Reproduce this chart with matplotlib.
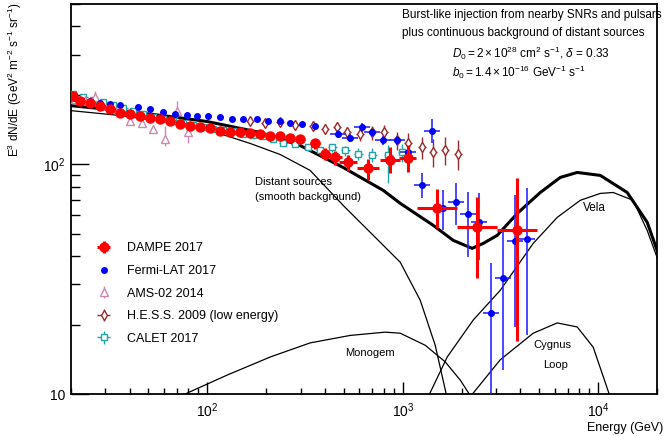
import numpy as np
import matplotlib
matplotlib.use("Agg")
import matplotlib.pyplot as plt
import matplotlib.ticker as ticker

plt.rcParams['font.family'] = ['Liberation Sans', 'DejaVu Sans']
plt.rcParams['mathtext.fontset'] = 'custom'
plt.rcParams['mathtext.rm'] = 'Liberation Sans'
plt.rcParams['mathtext.it'] = 'Liberation Sans:italic'

# ---- data (E in GeV, E^3 x flux) ----
# DAMPE-like series (red, filled circles)
red_E = [20.6, 22.4, 25.2, 28.4, 31.9, 35.9, 40.4, 45.4, 51.1, 57.5, 64.7, 72.8, 81.9, 92.1,
         103.6, 116.5, 131, 147.5, 166, 187, 210, 236, 266, 299, 357, 401, 452, 526, 666,
         863, 1060, 1502, 2404, 3855]
red_F = [199.5, 189.8, 186.0, 180.5, 175.2, 168.3, 166.7, 163.4, 160.1, 158.5, 154.5, 150.7, 147.7, 144.9,
         144.1, 140.5, 137.8, 137.8, 137.1, 135.7, 133.7, 133.0, 131.0, 129.1, 123.4, 111.6, 107.3, 102.0, 96.1,
         104.1, 106.2, 64.4, 53.2, 51.6]
red_dn = [0.03] * 24 + [0.05, 0.06, 0.07, 0.08, 0.11, 0.12, 0.13, 0.18, 0.40, 0.67]
red_up = [0.03] * 24 + [0.05, 0.06, 0.07, 0.08, 0.10, 0.14, 0.15, 0.21, 0.35, 0.69]
red_dex = [0.022] * 24 + [0.025, 0.03, 0.035, 0.045, 0.056, 0.051, 0.045, 0.102, 0.102, 0.102]

# Fermi-LAT-like series (blue dots)
blue_E = [21.1, 25.2, 28.4, 31.9, 35.9, 44.4, 51.1, 59.6, 68.5, 79.0, 88.9, 101.2, 116.5, 134.3,
          152.8, 180.2, 205.1, 236, 266, 306, 356.8, 468, 539, 620.6, 698, 795, 937, 1067,
          1258, 1416, 1612, 1878, 2163, 2462, 2836, 3267, 3763, 4333]
blue_F = [195.6, 189.8, 186.0, 184.1, 182.2, 178.7, 175.2, 170.0, 166.7, 165.0, 163.4, 163.4, 161.7, 158.5,
          158.5, 157.0, 155.3, 155.3, 152.2, 150.7, 147.7, 136.4, 131.0, 144.9, 137.8, 127.2, 127.2, 112.8,
          81.0, 140.5, 64.4, 68.4, 60.6, 56.0, 22.5, 31.9, 46.3, 47.2]
blue_lo = [None] * 21 + [131, 125.8, 139, 132.3, 122, 122, 108,
           71.2, 123.4, 51.6, 54.3, 39.4, 38.2, 5.0, 12.7, 19.6, 18.0]
blue_hi = [None] * 21 + [142, 136.2, 151, 143.3, 132.4, 132.4, 117.6,
           91.4, 158.5, 77.1, 82.7, 75.5, 74.8, 37.1, 51.6, 73.3, 78.6]

# AMS-02-like series (pink open triangles)
pink_E = [21.1, 23.8, 26.7, 31.2, 35.1, 40.4, 46.5, 52.9, 61.0, 70.2, 79.9]
pink_F = [193.7, 191.7, 197.6, 180.5, 175.2, 155.3, 152.2, 143.4, 129.7, 171.7, 137.8]
pink_lo = [189, 186, 184.1, 174, 169, 150.7, 144.9, 137.8, 120.9, 160.1, 124.6]
pink_hi = [199, 197, 209.8, 187, 181, 166.7, 160.1, 147.7, 147.7, 189.8, 147.7]

# H.E.S.S.-like series (dark red open diamonds)
hess_E = [166, 198, 236, 282, 348, 401, 462, 520, 606, 698, 804, 937, 1067, 1258, 1432, 1650, 1923]
hess_F = [155.3, 152.2, 153.8, 149.2, 147.7, 143.4, 144.9, 137.8, 136.4, 137.8, 137.8, 127.2, 124.6,
          118.6, 112.8, 115.1, 111.6]
hess_rel = [0.04, 0.04, 0.04, 0.05, 0.05, 0.05, 0.06, 0.06, 0.07, 0.07, 0.08, 0.09, 0.10, 0.11, 0.14, 0.14, 0.15]

# CALET-like series (cyan open squares)
cyan_E = [20.6, 23.2, 26.1, 29.4, 33.0, 37.2, 41.8, 47.0, 52.9, 59.6, 67.0, 75.4, 84.8, 95.4, 107.3,
          120.8, 135.8, 152.8, 171.9, 193.4, 217.6, 244.8, 281.9, 328.5, 378, 435.9, 508, 592, 698, 843, 994]
cyan_F = [203.6, 197.6, 191.7, 187.9, 182.3, 176.9, 171.7, 166.7, 161.7, 158.5, 155.3, 152.2, 149.2, 146.3,
          143.4, 142.0, 139.2, 136.4, 135.0, 132.4, 129.7, 124.6, 122.2, 118.6, 115.1, 118.6, 115.1, 111.6,
          110.5, 110.5, 112.8]
cyan_dn = [0.02] * 25 + [0.04, 0.05, 0.06, 0.07, 0.25, 0.09]
cyan_up = [0.02] * 25 + [0.04, 0.05, 0.06, 0.07, 0.10, 0.09]

# model curves
total_E = [19.9, 35.9, 64.7, 100, 186.7, 299, 496, 795, 971, 1432, 1813, 2267, 2581, 3043, 3855,
           5055, 6399, 7808, 10253, 14070, 17810, 20270]
total_F = [180.5, 171.7, 161.7, 153.8, 137.8, 120.9, 97.0, 77.1, 67.7, 54.3, 46.7, 43.1, 45.3, 49.1, 61.2,
           75.5, 87.8, 92.3, 89.6, 75.5, 56.0, 41.0]
bkg_E = [19.9, 35.9, 64.7, 103.6, 166, 236, 336, 496, 682, 971, 1229, 1466, 1669, 1750]
bkg_F = [171.7, 163.4, 152.2, 140.5, 123.4, 110.5, 94.2, 66.3, 50.6, 37.5, 25.6, 16.3, 10.0, 9.0]
mono_E = [71.1, 126.6, 210, 336, 539, 814, 971, 1304, 1650, 1969, 2189, 2250]
mono_F = [9.7, 12.1, 14.5, 16.7, 18.0, 18.6, 18.4, 16.3, 13.8, 11.5, 10.0, 9.5]
vela_E = [1340, 1689, 2294, 3155, 4650, 6170, 8100, 10253, 11930, 15100, 17810, 20270]
vela_F = [9.6, 14.5, 21.0, 28.3, 45.3, 58.8, 69.8, 74.8, 75.5, 69.8, 51.6, 38.2]
cyg_E = [2230, 3155, 4650, 6170, 7808, 9428, 11120, 11380]
cyg_F = [9.8, 14.1, 18.4, 20.4, 19.6, 16.0, 10.6, 10.0]

x_ticks = [100, 1000, 10000]
x_ticklabels = ['$10^{2}$', '$10^{3}$', '$10^{4}$']
y_ticks = [10, 100]
y_ticklabels = ['10', '$10^{2}$']


def yerr_rel(F, dn, up):
    F = np.array(F)
    return [F * np.array(dn), F * np.array(up)]


def xerr_dex(E, dex):
    E = np.array(E)
    d = np.array(dex)
    return [E * (1 - 10 ** -d), E * (10 ** d - 1)]


fig = plt.figure(figsize=(6.65, 4.36), dpi=100)
ax = fig.add_axes([0.1063, 0.0963, 0.8817, 0.8945])
ax.set_xscale('log')
ax.set_yscale('log')

ax.plot(total_E, total_F, color='black', lw=2.2, zorder=2)
for E, F in [(bkg_E, bkg_F), (mono_E, mono_F), (vela_E, vela_F), (cyg_E, cyg_F)]:
    ax.plot(E, F, color='black', lw=0.9, zorder=2)

h_cyan = ax.errorbar(cyan_E, cyan_F, yerr=yerr_rel(cyan_F, cyan_dn, cyan_up),
                     xerr=xerr_dex(cyan_E, [0.022] * len(cyan_E)),
                     fmt='s', ms=5, mfc='white', mec='#1fa5a5', mew=1.0,
                     ecolor='#1fa5a5', elinewidth=1.0, capsize=0, zorder=3)
h_hess = ax.errorbar(hess_E, hess_F, yerr=yerr_rel(hess_F, hess_rel, hess_rel),
                     xerr=xerr_dex(hess_E, [0.02] * len(hess_E)),
                     fmt='d', ms=5.5, mfc='white', mec='#992a2a', mew=1.0,
                     ecolor='#992a2a', elinewidth=1.0, capsize=0, zorder=4)
pink_err = [np.array(pink_F) - np.array(pink_lo), np.array(pink_hi) - np.array(pink_F)]
h_pink = ax.errorbar(pink_E, pink_F, yerr=pink_err, fmt='^', ms=5.5, mfc='white',
                     mec='#cc88b0', mew=1.0, ecolor='#cc88b0', elinewidth=1.0,
                     capsize=0, zorder=4)

n_small = blue_lo.count(None)
bE = np.array(blue_E[n_small:])
bF = np.array(blue_F[n_small:])
b_err = [bF - np.array(blue_lo[n_small:]), np.array(blue_hi[n_small:]) - bF]
ax.errorbar(blue_E[:n_small], blue_F[:n_small], fmt='o', ms=4, color='#0000ff',
            capsize=0, zorder=5)
ax.errorbar(bE, bF, yerr=b_err, xerr=xerr_dex(bE, [0.041] * len(bE)), fmt='o', ms=4,
            color='#0000ff', ecolor='#2a2aff', elinewidth=1.2, capsize=0, zorder=5)
h_blue = ax.errorbar([], [], fmt='o', ms=4, color='#0000ff')

h_red = ax.errorbar(red_E, red_F, yerr=yerr_rel(red_F, red_dn, red_up),
                    xerr=xerr_dex(red_E, red_dex), fmt='o', ms=6.5, color='#ff0000',
                    ecolor='#ff0000', elinewidth=2.2, capsize=0, zorder=6)

ax.set_xlim(20, 20000)
ax.set_ylim(10, 500)
ax.xaxis.set_major_locator(ticker.FixedLocator(x_ticks))
ax.xaxis.set_major_formatter(ticker.FixedFormatter(x_ticklabels))
ax.yaxis.set_major_locator(ticker.FixedLocator(y_ticks))
ax.yaxis.set_major_formatter(ticker.FixedFormatter(y_ticklabels))
ax.xaxis.set_minor_locator(ticker.LogLocator(subs=np.arange(2, 10)))
ax.yaxis.set_minor_locator(ticker.LogLocator(subs=np.arange(2, 10)))
ax.xaxis.set_minor_formatter(ticker.NullFormatter())
ax.yaxis.set_minor_formatter(ticker.NullFormatter())
ax.tick_params(which='both', direction='in', top=False, right=False, labelsize=10, width=1.0)
ax.tick_params(axis='x', which='major', length=8.6, pad=5)
ax.tick_params(axis='x', which='minor', length=4.3)
ax.tick_params(axis='y', which='major', length=13, pad=4)
ax.tick_params(axis='y', which='minor', length=6.5)
for s in ax.spines.values():
    s.set_linewidth(1.3)

leg = ax.legend([h_red, h_blue, h_pink, h_hess, h_cyan],
                ['DAMPE 2017', 'Fermi-LAT 2017', 'AMS-02 2014', 'H.E.S.S. 2009 (low energy)', 'CALET 2017'],
                loc='upper left', bbox_to_anchor=(0.035, 0.405), frameon=False, fontsize=9,
                handlelength=1.0, handletextpad=1.4, labelspacing=0.85, borderpad=0)

ax.text(0.314, 0.544, 'Distant sources', transform=ax.transAxes, fontsize=8, va='center')
ax.text(0.314, 0.505, '(smooth background)', transform=ax.transAxes, fontsize=8, va='center')
ax.text(0.468, 0.105, 'Monogem', transform=ax.transAxes, fontsize=8, va='center')
ax.text(0.874, 0.477, 'Vela', transform=ax.transAxes, fontsize=8.5, va='center')
ax.text(0.789, 0.126, 'Cygnus', transform=ax.transAxes, fontsize=8, va='center')
ax.text(0.806, 0.074, 'Loop', transform=ax.transAxes, fontsize=8, va='center')

fig.text(0.605, 0.966, 'Burst-like injection from nearby SNRs and pulsars', fontsize=8.5, va='center')
fig.text(0.605, 0.924, 'plus continuous background of distant sources', fontsize=8.5, va='center')
fig.text(0.68, 0.878, r'$D_0 = 2\times10^{28}$ cm$^{2}$ s$^{-1}$, $\delta$ = 0.33', fontsize=8.5, va='center')
fig.text(0.68, 0.835, r'$b_0 = 1.4\times10^{-16}$ GeV$^{-1}$ s$^{-1}$', fontsize=8.5, va='center')

fig.text(0.022, 0.995, r'E$^{3}$ dN/dE (GeV$^{2}$ m$^{-2}$ s$^{-1}$ sr$^{-1}$)', rotation=90,
         fontsize=8.5, ha='center', va='top')
fig.text(0.997, 0.018, 'Energy (GeV)', fontsize=9, ha='right', va='center')

fig.savefig('out.png', dpi=100)
